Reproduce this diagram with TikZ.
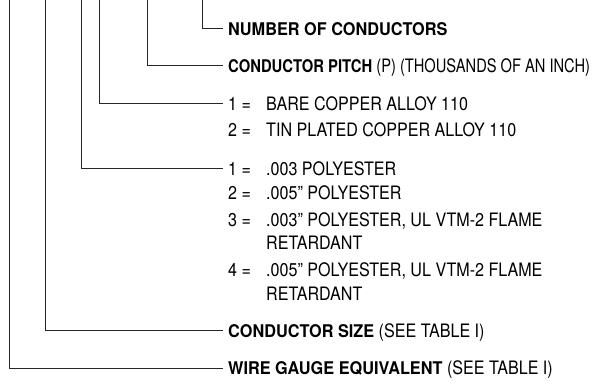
\documentclass[tikz,border=0pt]{standalone}
\usepackage{fontspec}
\usepackage{graphicx}
\newfontfamily\condfont[FakeStretch=0.87]{TeX Gyre Heros}
\newfontfamily\heavyfont[FakeStretch=0.93]{TeX Gyre Heros}
\newcommand{\hv}[1]{{\heavyfont\bfseries\fontsize{17.5}{20}\selectfont #1}}
\begin{document}
\begin{tikzpicture}[x=1pt,y=-1pt,
  lbl/.style={anchor=west,inner xsep=0pt,inner ysep=0pt,text height=13pt,text depth=0pt,
    font=\condfont\fontsize{18.5}{20}\selectfont},
  lead/.style={draw=black!85,line width=1pt}]
\useasboundingbox (0,0) rectangle (597,383);
% tops of the vertical leads
\coordinate (t1) at (202,0);
\coordinate (t2) at (147.5,0);
\coordinate (t3) at (99,0);
\coordinate (t4) at (81,0);
\coordinate (t5) at (45,0);
\coordinate (t6) at (9,0);
% labels
\node[lbl] (n1) at (228,28.5) {\hv{NUMBER OF CONDUCTORS}};
\node[lbl] (n2) at (228,65.5) {\scalebox{0.91}[1]{\hv{CONDUCTOR PITCH} (P) (THOUSANDS OF AN INCH)}};
\node[lbl] (n3) at (228,103.5) {1 =};
\node[lbl] (n3a) at (266,103.5) {BARE COPPER ALLOY 110};
\node[lbl] (n3b) at (228,130) {2 =};
\node[lbl] (n3c) at (266,130) {TIN PLATED COPPER ALLOY 110};
\node[lbl] (n4) at (228,168.5) {1 =};
\node[lbl] (n4a) at (266,168.5) {.003 POLYESTER};
\node[lbl] (n4b) at (228,192.5) {2 =};
\node[lbl] (n4c) at (266,192.5) {.005” POLYESTER};
\node[lbl] (n4d) at (228,219.5) {3 =};
\node[lbl] (n4e) at (266,219.5) {.003” POLYESTER, UL VTM-2 FLAME};
\node[lbl] (n4f) at (266,243) {RETARDANT};
\node[lbl] (n4g) at (228,270) {4 =};
\node[lbl] (n4h) at (266,270) {.005” POLYESTER, UL VTM-2 FLAME};
\node[lbl] (n4i) at (266,294) {RETARDANT};
\node[lbl] (n5) at (228,330.5) {\hv{CONDUCTOR SIZE} (SEE TABLE I)};
\node[lbl] (n6) at (228,368) {\hv{WIRE GAUGE EQUIVALENT} (SEE TABLE I)};
% leads
\draw[lead,shorten >=5pt] (t1) |- (n1.west);
\draw[lead,shorten >=5pt] (t2) |- (n2.west);
\draw[lead,shorten >=5pt] (t3) |- (n3.west);
\draw[lead,shorten >=5pt] (t4) |- (n4.west);
\draw[lead,shorten >=5pt] (t5) |- (n5.west);
\draw[lead,shorten >=5pt] (t6) |- (n6.west);
\end{tikzpicture}
\end{document}
